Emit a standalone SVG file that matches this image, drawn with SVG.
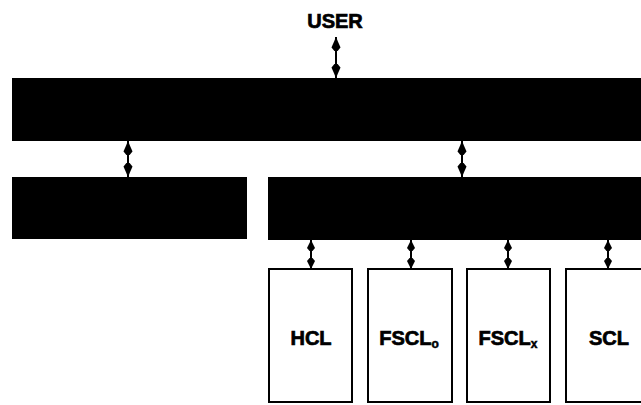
<svg xmlns="http://www.w3.org/2000/svg" width="641" height="405" viewBox="0 0 641 405">
  <style>
    .bar { fill: #000; }
    .box { fill: #fff; stroke: #000; stroke-width: 2; }
    .lbl { font-family: "Liberation Sans", Arial, sans-serif; font-weight: bold; font-size: 20px; fill: #000; stroke: #000; stroke-width: 0.7; text-anchor: middle; }
    .sub { font-size: 12px; stroke-width: 0.5; }
    .link { stroke: #000; stroke-width: 2; fill: none; marker-start: url(#head); marker-end: url(#head); }
    .link.short { marker-start: url(#headS); marker-end: url(#headS); }
  </style>
  <defs>
    <marker id="head" viewBox="0 -5 14 10" refX="14" refY="0" markerWidth="14" markerHeight="10" markerUnits="userSpaceOnUse" orient="auto-start-reverse">
      <path d="M14,0 L3.5,-4.5 L0,-1.6 L0,1.6 L3.5,4.5 Z" fill="#000"/>
    </marker>
    <marker id="headS" viewBox="0 -5 11 10" refX="11" refY="0" markerWidth="11" markerHeight="10" markerUnits="userSpaceOnUse" orient="auto-start-reverse">
      <path d="M11,0 L3,-4 L0,-1.5 L0,1.5 L3,4 Z" fill="#000"/>
    </marker>
  </defs>

  <text class="lbl" x="335" y="28">USER</text>

  <g id="top-layer"><rect class="bar" x="12" y="78" width="640" height="63"/></g>
  <g id="left-block"><rect class="bar" x="12" y="177" width="235" height="62"/></g>
  <g id="right-block"><rect class="bar" x="268" y="177" width="384" height="63"/></g>

  <g id="hcl"><rect class="box" x="269" y="269" width="83" height="133"/><text class="lbl" x="311" y="345">HCL</text></g>
  <g id="fscl0"><rect class="box" x="368" y="269" width="84" height="133"/><text class="lbl" x="409" y="345">FSCL<tspan class="sub" dy="3">o</tspan></text></g>
  <g id="fsclx"><rect class="box" x="467" y="269" width="83" height="133"/><text class="lbl" x="508" y="345">FSCL<tspan class="sub" dy="3">x</tspan></text></g>
  <g id="scl"><rect class="box" x="566" y="269" width="90" height="133"/><text class="lbl" x="609" y="345">SCL</text></g>

  <g id="connectors">
    <line class="link" x1="336" y1="37" x2="336" y2="78"/>
    <line class="link" x1="128" y1="141" x2="128" y2="177"/>
    <line class="link" x1="462" y1="141" x2="462" y2="177"/>
    <line class="link short" x1="311" y1="240" x2="311" y2="269"/>
    <line class="link short" x1="411" y1="240" x2="411" y2="269"/>
    <line class="link short" x1="508" y1="240" x2="508" y2="269"/>
    <line class="link short" x1="608" y1="240" x2="608" y2="269"/>
  </g>
</svg>
